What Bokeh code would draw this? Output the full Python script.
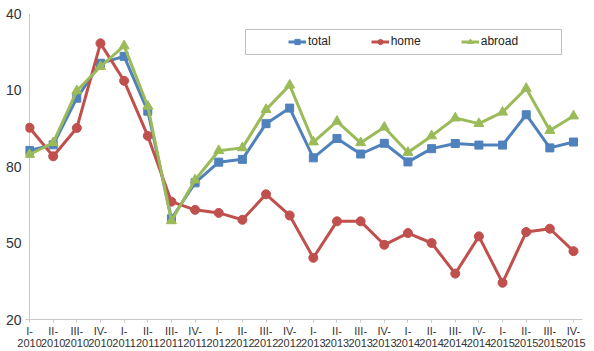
from bokeh.plotting import figure
from bokeh.models import Range1d, FixedTicker, Legend, LegendItem, BoxAnnotation, Span
from bokeh.embed import file_html
from bokeh.resources import INLINE

quarters = ["I-\n2010", "II-\n2010", "III-\n2010", "IV-\n2010",
            "I-\n2011", "II-\n2011", "III-\n2011", "IV-\n2011",
            "I-\n2012", "II-\n2012", "III-\n2012", "IV-\n2012",
            "I-\n2013", "II-\n2013", "III-\n2013", "IV-\n2013",
            "I-\n2014", "II-\n2014", "III-\n2014", "IV-\n2014",
            "I-\n2015", "II-\n2015", "III-\n2015", "IV-\n2015"]

total = [86.3, 88.5, 106.8, 120.5, 123.2, 101.7, 59.5, 73.6,
         81.7, 82.8, 96.8, 102.9, 83.4, 91.0, 84.9, 89.1,
         81.8, 87.0, 89.0, 88.4, 88.4, 100.3, 87.3, 89.6]
home = [95.2, 84.0, 95.1, 128.3, 113.6, 92.0, 66.2, 63.0,
        61.8, 59.1, 69.1, 60.8, 44.2, 58.5, 58.5, 49.3,
        53.9, 50.0, 38.0, 52.6, 34.4, 54.3, 55.6, 46.8]
abroad = [84.7, 89.3, 109.7, 119.2, 127.3, 103.6, 58.7, 74.7,
          86.2, 87.3, 102.3, 111.9, 89.6, 97.7, 89.3, 95.4,
          85.5, 92.0, 99.0, 96.8, 101.3, 110.6, 94.1, 99.8]

y_ticks = [20, 50, 80, 110, 140]
y_tick_labels = ["20", "50", "80", "10", "40"]

series_names = ["total", "home", "abroad"]
colors = ["#4F81BD", "#C0504D", "#9BBB59"]
markers = ["square", "circle", "triangle"]
sizes = [8, 9, 10]

x = list(range(len(quarters)))
FONT = "Liberation Sans"
AXIS_GRAY = "#C8C8C8"

p = figure(width=594, height=351, output_backend="svg", toolbar_location=None,
           x_range=Range1d(-0.17, 23.38), y_range=Range1d(20, 140),
           min_border_left=25, min_border_right=12, min_border_top=13,
           min_border_bottom=29)
p.outline_line_color = None
p.xgrid.grid_line_color = None
p.ygrid.grid_line_color = None
p.background_fill_color = "white"

# y axis line at the first category
p.add_layout(Span(location=x[0], dimension="height", line_color=AXIS_GRAY,
                  line_width=1, level="underlay"))

items = []
for name, vals, col, mk, sz in zip(series_names, [total, home, abroad], colors, markers, sizes):
    l = p.line(x, vals, line_color=col, line_width=3)
    s = p.scatter(x, vals, marker=mk, size=sz, fill_color=col, line_color=col)
    items.append(LegendItem(label=name, renderers=[l, s]))

# x axis
p.xaxis.ticker = FixedTicker(ticks=x)
p.xaxis.major_label_overrides = {i: q for i, q in zip(x, quarters)}
p.xaxis.major_label_text_font = FONT
p.xaxis.major_label_text_font_size = "11px"
p.xaxis.major_label_text_line_height = 1.0
p.xaxis.major_label_text_color = "#333333"
p.xaxis.major_label_standoff = 2
p.xaxis.major_tick_out = 3
p.xaxis.major_tick_in = 0
p.xaxis.minor_tick_line_color = None
p.xaxis.axis_line_color = AXIS_GRAY
p.xaxis.major_tick_line_color = AXIS_GRAY

# y axis labels
p.yaxis.ticker = FixedTicker(ticks=y_ticks)
p.yaxis.major_label_overrides = {t: s for t, s in zip(y_ticks, y_tick_labels)}
p.yaxis.major_label_text_font = FONT
p.yaxis.major_label_text_font_size = "14px"
p.yaxis.major_label_text_color = "#333333"
p.yaxis.major_label_standoff = 4
p.yaxis.major_tick_out = 0
p.yaxis.major_tick_in = 0
p.yaxis.major_tick_line_color = None
p.yaxis.minor_tick_line_color = None
p.yaxis.axis_line_color = None

box = BoxAnnotation(left=220, right=536, bottom=265, top=290,
                    left_units="screen", right_units="screen",
                    top_units="screen", bottom_units="screen",
                    fill_color=None, fill_alpha=0, line_color="#BFBFBF",
                    line_alpha=1, line_width=1, level="overlay")
p.add_layout(box)

legend = Legend(items=items, orientation="horizontal", location=(257, 265),
                padding=6, spacing=40, glyph_width=18, glyph_height=13,
                label_height=13, label_standoff=2,
                label_text_font=FONT, label_text_font_size="12px",
                label_text_color="#222222",
                border_line_alpha=0, background_fill_alpha=0)
p.add_layout(legend)

open("out.html", "w").write(file_html(p, INLINE))
